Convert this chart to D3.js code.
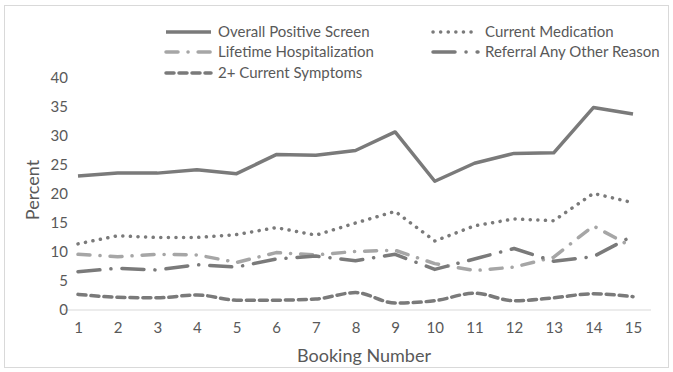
<!DOCTYPE html>
<html><head><meta charset="utf-8">
<script src="https://cdn.jsdelivr.net/npm/d3@7"></script>
<style>body{margin:0;background:#fff}svg{display:block}text{font-family:Lato,"Open Sans",sans-serif;fill:#595959}</style>
</head><body><svg id="c" width="673" height="372"></svg>
<script>
const categories = [1,2,3,4,5,6,7,8,9,10,11,12,13,14,15];
const overallPositive = [23.1,23.6,23.6,24.2,23.5,26.8,26.7,27.5,30.7,22.2,25.3,27.0,27.1,34.9,33.8];
const currentMedication = [11.4,12.8,12.5,12.5,13.0,14.2,12.9,15.0,17.0,11.9,14.5,15.7,15.4,20.1,18.5];
const lifetimeHosp = [9.6,9.2,9.6,9.5,8.2,9.9,9.5,10.1,10.3,8.0,6.8,7.4,9.1,14.5,10.8];
const referralOther = [6.6,7.2,6.9,7.8,7.4,8.8,9.3,8.5,9.6,7.0,8.8,10.6,8.4,9.2,12.8];
const currentSymptoms = [2.7,2.2,2.1,2.6,1.7,1.7,1.9,3.0,1.2,1.6,2.9,1.6,2.1,2.8,2.3];
const yTicks = [0,5,10,15,20,25,30,35,40];

const series = [
  {name:"Overall Positive Screen", values:overallPositive, color:"#7a7a7a", dash:null, cap:"butt", w:3.5, lx:166, ly:32, curve:d3.curveLinear},
  {name:"Current Medication", values:currentMedication, color:"#7a7a7a", dash:"0.1,7.5", cap:"round", w:3.5, lx:433, ly:32, curve:d3.curveLinear},
  {name:"Lifetime Hospitalization", values:lifetimeHosp, color:"#a6a6a6", dash:"12,10,0.1,10", cap:"round", w:3.5, lx:166, ly:52, curve:d3.curveLinear},
  {name:"Referral Any Other Reason", values:referralOther, color:"#7a7a7a", dash:"22,11,0.1,11", cap:"round", w:3.5, lx:433, ly:52, curve:d3.curveLinear},
  {name:"2+ Current Symptoms", values:currentSymptoms, color:"#7a7a7a", dash:"8,5", cap:"round", w:3.5, lx:166, ly:73, curve:d3.curveMonotoneX}
];

const svg = d3.select("#c");
svg.append("rect").attr("x",4.5).attr("y",5.5).attr("width",664).attr("height",362).attr("fill","none").attr("stroke","#d9d9d9");

const x = d3.scalePoint().domain(categories).range([78,633]);
const y = d3.scaleLinear().domain([0,40]).range([310,78]);

svg.append("line").attr("x1",64).attr("x2",651).attr("y1",y(0)).attr("y2",y(0)).attr("stroke","#d9d9d9").attr("stroke-width",1);

const yAxis = svg.append("g").attr("transform","translate(68,0)")
  .call(d3.axisLeft(y).tickValues(yTicks).tickSize(0).tickPadding(0));
yAxis.select(".domain").remove();
yAxis.selectAll("text").style("font-size","15px").attr("fill","#595959");

const xAxis = svg.append("g").attr("transform","translate(0,322)")
  .call(d3.axisBottom(x).tickSize(0).tickPadding(0));
xAxis.select(".domain").remove();
xAxis.selectAll("text").style("font-size","15px").attr("fill","#595959");

svg.append("text").attr("transform","translate(39,190) rotate(-90)").attr("text-anchor","middle")
  .style("font-size","18px").text("Percent");
svg.append("text").attr("x",364).attr("y",362).attr("text-anchor","middle").style("font-size","18px").text("Booking Number");

series.forEach(s=>{
  const line = d3.line().x((d,i)=>x(categories[i])).y(d=>y(d)).curve(s.curve);
  svg.append("path").datum(s.values).attr("d",line).attr("fill","none")
    .attr("stroke",s.color).attr("stroke-width",s.w).attr("stroke-linecap",s.cap)
    .attr("stroke-linejoin","round").attr("stroke-dasharray",s.dash);
  svg.append("line").attr("x1",s.lx).attr("x2",s.lx+45).attr("y1",s.ly).attr("y2",s.ly)
    .attr("stroke",s.color).attr("stroke-width",s.w).attr("stroke-linecap",s.cap).attr("stroke-dasharray",s.dash);
  svg.append("text").attr("x",s.lx+52).attr("y",s.ly).attr("dy","0.35em").style("font-size","15px").text(s.name);
});
</script></body></html>
